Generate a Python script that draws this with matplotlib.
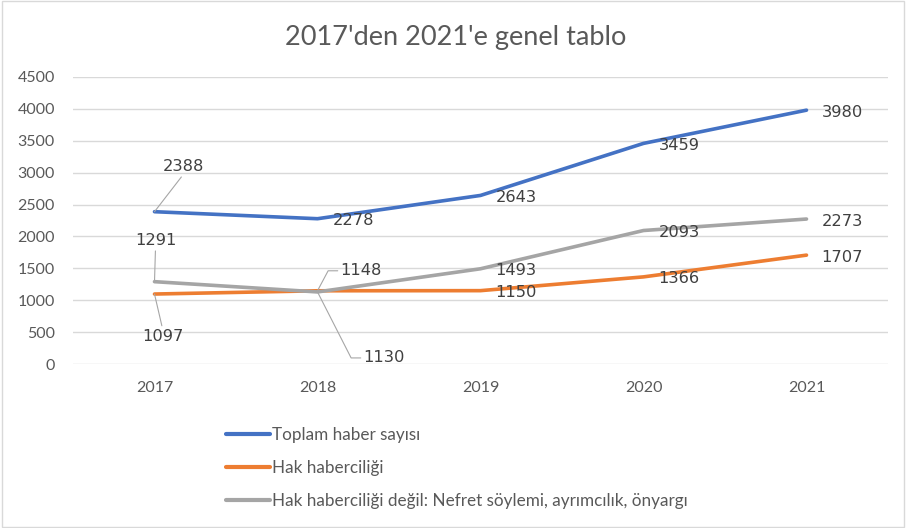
import matplotlib.pyplot as plt
from matplotlib.patches import Rectangle
from matplotlib.lines import Line2D

years = ["2017", "2018", "2019", "2020", "2021"]
toplam = [2388, 2278, 2643, 3459, 3980]
hak = [1097, 1148, 1150, 1366, 1707]
degil = [1291, 1130, 1493, 2093, 2273]
names = ["Toplam haber sayısı", "Hak haberciliği",
         "Hak haberciliği değil: Nefret söylemi, ayrımcılık, önyargı"]
colors = ["#4472C4", "#ED7D31", "#A5A5A5"]
yticks = [0, 500, 1000, 1500, 2000, 2500, 3000, 3500, 4000, 4500]

fig = plt.figure(figsize=(9.06, 5.28), dpi=100)
ax = fig.add_axes([73/906, 1-364/528, 815/906, 287/528])

x = list(range(len(years)))
for vals, c in zip([toplam, hak, degil], colors):
    ax.plot(x, vals, color=c, lw=2.6, solid_capstyle="round", zorder=3)

ax.set_xlim(-0.5, 4.5)
ax.set_ylim(0, 4500)
ax.set_yticks(yticks)
ax.set_xticks(x)
ax.set_xticklabels(years)
ax.grid(axis="y", color="#d9d9d9", lw=1)
ax.set_axisbelow(True)
for s in ax.spines.values():
    s.set_visible(False)
ax.tick_params(length=0, labelcolor="#595959", labelsize=11.5)
ax.tick_params(axis="y", pad=13)
ax.tick_params(axis="x", pad=12)
for t in ax.get_xticklabels() + ax.get_yticklabels():
    t.set_family("Lato")

lab = dict(fontsize=11.7, color="#404040", family="DejaVu Sans")
lead = dict(arrowstyle="-", color="#a6a6a6", lw=0.8, shrinkA=0, shrinkB=0)

# plain labels to the right of the point
def right(i, v):
    ax.annotate(str(v), (i, v), xytext=(15, -2), textcoords="offset pixels",
                ha="left", va="center", **lab)

for i in [1, 2, 3, 4]:
    right(i, toplam[i])
for i in [2, 3, 4]:
    right(i, hak[i])
    right(i, degil[i])

# labels with leader lines
ax.annotate(str(toplam[0]), (0, toplam[0]), xytext=(29, 45), textcoords="offset pixels",
            ha="center", va="center",
            arrowprops=dict(relpos=(0.5, 0), **lead), **lab)
ax.annotate(str(degil[0]), (0, degil[0]), xytext=(1, 41), textcoords="offset pixels",
            ha="center", va="center",
            arrowprops=dict(relpos=(0.5, 0), **lead), **lab)
ax.annotate(str(hak[0]), (0, hak[0]), xytext=(8, -42), textcoords="offset pixels",
            ha="center", va="center",
            arrowprops=dict(relpos=(0.5, 1), **lead), **lab)
ax.annotate(str(hak[1]), (1, hak[1]), xytext=(23, 20), textcoords="offset pixels",
            ha="left", va="center",
            arrowprops=dict(relpos=(0, 0.5), connectionstyle="angle,angleA=0,angleB=62,rad=0", **lead),
            **lab)
ax.annotate(str(degil[1]), (1, degil[1]), xytext=(46, -66), textcoords="offset pixels",
            ha="left", va="center",
            arrowprops=dict(relpos=(0, 0.5), connectionstyle="angle,angleA=0,angleB=-63,rad=0", **lead),
            **lab)

fig.text(0.503, 1-37/528, "2017'den 2021'e genel tablo", ha="center", va="center",
         fontsize=19.5, color="#595959", family="Lato")

handles = [Line2D([], [], color=c, lw=3, solid_capstyle="round") for c in colors]
leg = fig.legend(handles, names, loc="upper left", bbox_to_anchor=(217/906, 1-418/528),
                 frameon=False, borderpad=0, handlelength=2.6, handletextpad=0.1,
                 labelspacing=1.0, prop={"family": "Lato", "size": 12.3})
for t in leg.get_texts():
    t.set_color("#595959")

fig.patches.append(Rectangle((0.002, 0.002), 0.996, 0.996, transform=fig.transFigure,
                             fill=False, edgecolor="#d9d9d9", lw=1))

fig.savefig("out.png", dpi=100)
